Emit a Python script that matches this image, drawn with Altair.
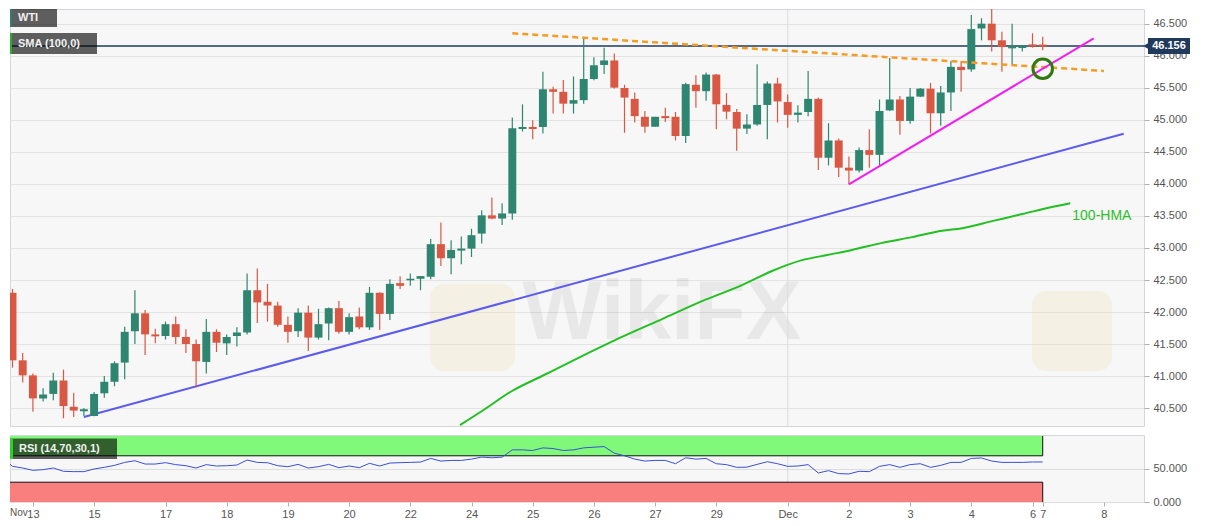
import altair as alt
import pandas as pd

# ---------------- data ----------------
opens = [41.62, 42.30, 41.245, 41.01, 40.65, 40.72, 40.93, 40.52, 40.46, 40.375,
         40.73, 40.91, 41.21, 41.70, 41.98, 41.65, 41.625, 41.81, 41.61, 41.50,
         41.22, 41.69, 41.51, 41.625, 41.68, 42.34, 42.16, 42.10, 41.80, 41.70,
         41.99, 41.60, 41.82, 42.06, 41.69, 41.93, 41.76, 42.30, 41.97, 42.44,
         42.495, 42.53, 42.55, 43.06, 42.84, 42.97, 42.99, 43.225, 43.51, 43.46,
         43.54, 44.87, 44.88, 44.89, 45.48, 45.44, 45.255, 45.31, 45.64, 45.86,
         45.93, 45.50, 45.33, 45.05, 44.895, 45.05, 45.05, 44.75, 45.55, 45.45,
         45.71, 45.235, 45.125, 44.865, 44.93, 45.235, 45.57, 45.28, 45.08, 45.125,
         45.33, 44.41, 44.68, 44.255, 44.21, 44.53, 44.455, 45.15, 45.32, 44.985,
         45.365, 45.49, 45.105, 45.43, 45.83, 45.79, 46.43, 46.505, 46.245, 46.13,
         46.135, 46.17, 46.167]
highs = [42.41, 42.36, 41.36, 41.04, 40.81, 41.05, 41.10, 40.74, 40.50, 40.75,
         41.00, 41.23, 41.77, 42.34, 42.03, 41.74, 41.85, 41.93, 41.73, 41.57,
         41.89, 41.73, 41.65, 41.76, 42.60, 42.68, 42.44, 42.16, 41.93, 42.06,
         42.10, 42.05, 42.07, 42.17, 41.98, 42.07, 42.39, 42.31, 42.51, 42.56,
         42.60, 42.56, 43.14, 43.40, 43.12, 43.18, 43.30, 43.59, 43.79, 43.70,
         45.04, 45.245, 44.995, 45.755, 45.52, 45.625, 45.68, 46.30, 45.98, 46.13,
         46.04, 45.55, 45.43, 45.14, 45.05, 45.19, 45.125, 45.58, 45.70, 45.74,
         45.72, 45.42, 45.17, 45.09, 45.87, 45.60, 45.66, 45.40, 45.23, 45.765,
         45.35, 44.95, 44.71, 44.43, 44.57, 44.855, 45.32, 45.97, 45.375, 45.50,
         45.50, 45.58, 45.53, 45.92, 45.92, 46.64, 46.59, 46.745, 46.38, 46.505,
         46.15, 46.355, 46.30]
lows = [41.31, 41.13, 40.90, 40.44, 40.60, 40.62, 40.34, 40.36, 40.375, 40.37,
        40.66, 40.84, 40.95, 41.50, 41.33, 41.51, 41.57, 41.50, 41.36, 40.82,
        41.04, 41.375, 41.33, 41.46, 41.65, 41.83, 41.85, 41.77, 41.52, 41.61,
        41.39, 41.57, 41.56, 41.66, 41.65, 41.73, 41.72, 41.72, 41.875, 42.36,
        42.41, 42.34, 42.51, 42.72, 42.59, 42.745, 42.86, 43.07, 43.45, 43.36,
        43.44, 44.82, 44.70, 44.79, 45.10, 45.10, 45.10, 45.255, 45.62, 45.72,
        45.49, 44.80, 44.96, 44.80, 44.89, 44.97, 44.68, 44.64, 45.19, 45.30,
        44.855, 45.01, 44.52, 44.78, 44.91, 44.70, 44.96, 44.88, 44.96, 45.06,
        44.22, 44.29, 44.11, 43.995, 44.18, 44.255, 44.29, 45.14, 44.77, 44.94,
        45.36, 44.79, 44.91, 45.14, 45.44, 45.755, 46.245, 46.07, 45.755, 45.87,
        46.07, 46.13, 46.09]
closes = [42.33, 41.245, 41.01, 40.65, 40.71, 40.93, 40.53, 40.46, 40.47, 40.72,
          40.91, 41.20, 41.69, 41.98, 41.65, 41.62, 41.81, 41.61, 41.50, 41.23,
          41.69, 41.52, 41.61, 41.68, 42.34, 42.15, 42.10, 41.80, 41.69, 41.99,
          41.60, 41.81, 42.06, 41.69, 41.92, 41.76, 42.30, 41.97, 42.44, 42.42,
          42.52, 42.55, 43.06, 42.84, 42.97, 42.98, 43.20, 43.51, 43.46, 43.54,
          44.87, 44.88, 44.87, 45.48, 45.44, 45.255, 45.31, 45.64, 45.855, 45.93,
          45.505, 45.35, 45.06, 44.895, 45.05, 45.04, 44.75, 45.56, 45.45, 45.71,
          45.245, 45.13, 44.865, 44.93, 45.235, 45.57, 45.29, 45.08, 45.115, 45.33,
          44.41, 44.68, 44.255, 44.21, 44.53, 44.455, 45.14, 45.32, 44.985, 45.365,
          45.49, 45.105, 45.43, 45.83, 45.78, 46.42, 46.505, 46.245, 46.14, 46.145,
          46.15, 46.156, 46.156]
rsi = [66.7, 54, 51.5, 48, 49, 51.5, 46.5, 46, 46, 50,
       52.5, 55.5, 60, 62.5, 57.5, 57.5, 59.6, 56.6, 55, 51.5,
       56.6, 54.5, 55, 56, 63.6, 60, 59.5, 55, 53.5, 57,
       51.5, 53.5, 57, 52, 54.5, 52, 58.6, 54.5, 59, 59.6,
       60, 60.5, 66, 62, 63, 63, 65, 68, 67, 68,
       79, 79, 78, 82, 81, 78, 79, 82, 83, 84,
       74, 70, 65, 62, 63, 63, 58, 67, 65, 66,
       58, 56.6, 52.5, 52.8, 57, 61, 58, 54, 54.5, 56.6,
       44, 47.5, 43, 42.5, 46.5, 46, 54, 56.6, 52.5, 56.6,
       58, 52.5, 55.5, 60, 60, 66, 66.7, 62, 60, 60,
       60, 60.6, 60.6]

hma_idx = [44.87, 47.03, 49.97, 52.91, 56.83, 60.75, 64.68, 68.6, 72.52, 75.46,
           78.4, 80.85, 83.3, 86.25, 89.19, 92.13, 94.1, 97.03, 100.0, 102.9, 104.7]
hma_val = [40.234, 40.453, 40.766, 41.0, 41.31, 41.61, 41.89, 42.17, 42.42, 42.64,
           42.81, 42.89, 42.97, 43.08, 43.17, 43.27, 43.31, 43.42, 43.53, 43.64, 43.70]

blue_i, blue_p = [8.0, 109.94], [40.36, 44.786]
pink_i, pink_p = [83.0, 107.0], [43.995, 46.276]
orange_i, orange_p = [50.0, 108.0], [46.355, 45.766]
circle_i, circle_p = [102.0], [45.80]
last_price = 46.156

tick_pos = [3, 9, 16, 22, 28, 34, 40, 46, 52, 58, 64, 70, 77, 83, 89, 95, 101, 102, 108]
tick_lab = ["13", "15", "17", "18", "19", "20", "22", "24", "25", "26", "27", "29",
            "Dec", "2", "3", "4", "6", "7", "8"]
price_ticks = [40.5, 41.0, 41.5, 42.0, 42.5, 43.0, 43.5, 44.0, 44.5, 45.0, 45.5, 46.0, 46.5]
rsi_ticks = [0, 50]

# ---------------- chart ----------------
GREEN = "#2e8670"
RED = "#d95844"
NAVY = "#1f3a5c"
XMIN, XMAX = 0.755, 111.93
W, H_MAIN, H_RSI = 1134, 417, 67

xs = alt.Scale(domain=[XMIN, XMAX], nice=False, zero=False)
ys = alt.Scale(domain=[40.219, 46.734], nice=False, zero=False)
ys_r = alt.Scale(domain=[0, 101.5], nice=False, zero=False)

yaxis = alt.Axis(orient="right", values=price_ticks, format=".3f", title=None, grid=True,
                 gridColor="#e3e3e3", tickColor="#b0b0b0", tickSize=5, labelColor="#555555",
                 labelFontSize=11, labelPadding=4, domain=False)
yaxis_r = alt.Axis(orient="right", values=rsi_ticks, format=".3f", title=None, grid=True,
                   gridColor="#dedede", tickColor="#b0b0b0", tickSize=5, labelColor="#555555",
                   labelFontSize=11, labelPadding=4, domain=False)
lab_expr = "[" + ",".join("'%s'" % t for t in tick_lab) + "][indexof([" + \
    ",".join(str(p) for p in tick_pos) + "], datum.value)]"
xaxis_r = alt.Axis(values=tick_pos, labelExpr=lab_expr, title=None, grid=False, tickSize=4,
                   tickColor="#b0b0b0", labelColor="#555555", labelFontSize=11, labelPadding=2,
                   domain=False, labelFlush=False, labelOverlap=False)


def X(f):
    return alt.X(f, scale=xs, axis=None)


def Y(f):
    return alt.Y(f, scale=ys, axis=yaxis)


def XR(f):
    return alt.X(f, scale=xs, axis=xaxis_r)


def YR(f):
    return alt.Y(f, scale=ys_r, axis=yaxis_r)


one = pd.DataFrame({"k": [0]})
candles = pd.DataFrame({"i": list(range(len(opens))), "o": opens, "h": highs,
                        "l": lows, "c": closes, "rsi": rsi})
col = alt.condition("datum.c >= datum.o", alt.value(GREEN), alt.value(RED))


def pxrect(x0, x1, y0, y1, color, opacity=1.0, corner=0):
    return alt.Chart(one).mark_rect(color=color, opacity=opacity, cornerRadius=corner).encode(
        x=alt.value(x0), x2=alt.value(x1), y=alt.value(y0), y2=alt.value(y1))


def pxtext(txt, x, y, size=11, color="#f2f2f2", weight="bold", align="left", **kw):
    return alt.Chart(one).mark_text(text=txt, fontSize=size, color=color, fontWeight=weight,
                                    align=align, baseline="middle", **kw).encode(
        x=alt.value(x), y=alt.value(y))


def line(xv, yv, **kw):
    return alt.Chart(pd.DataFrame({"x": xv, "y": yv})).mark_line(clip=True, **kw).encode(
        x=X("x:Q"), y=Y("y:Q"))


# decorations (faint watermark)
logo1 = pxrect(420, 505, 275, 362, "#ecd9a0", 0.22, 14)
logo2 = pxrect(1022, 1102, 282, 362, "#ecd9a0", 0.22, 14)
wm1 = pxtext("WikiFX", 652, 305, size=84, color="#000000", weight="bold", align="center",
             opacity=0.055, clip=True)

dec_rule = alt.Chart(pd.DataFrame({"x": [77]})).mark_rule(color="#dcdcdc").encode(x=X("x:Q"))
navy = alt.Chart(pd.DataFrame({"y": [last_price]})).mark_rule(color=NAVY, strokeWidth=1.3).encode(
    y=Y("y:Q"))
blue = line(blue_i, blue_p, color="#5b5bf0", strokeWidth=2)
hma = line(hma_idx, hma_val, color="#22c022", strokeWidth=2, interpolate="monotone")
orange = line(orange_i, orange_p, color="#f39c26", strokeWidth=2.5, strokeDash=[6, 4])
pink = line(pink_i, pink_p, color="#f01ef0", strokeWidth=2)

wicks = alt.Chart(candles).mark_rule(strokeWidth=1.2, clip=True).encode(
    x=X("i:Q"), y=Y("l:Q"), y2="h:Q", color=col)
bodies = alt.Chart(candles).transform_calculate(
    x0="datum.i - 0.39", x1="datum.i + 0.39",
    d="abs(datum.o - datum.c) < 0.02 ? 0.011 : 0",
    bt="max(datum.o, datum.c) + datum.d", bb="min(datum.o, datum.c) - datum.d"
).mark_rect(clip=True).encode(x=X("x0:Q"), x2="x1:Q", y=Y("bb:Q"), y2="bt:Q", color=col)

circle = alt.Chart(pd.DataFrame({"x": circle_i, "y": circle_p})).mark_point(
    shape="circle", size=380, filled=False, color="#2f7a0f", strokeWidth=3, opacity=1).encode(
    x=X("x:Q"), y=Y("y:Q"))
hma_text = alt.Chart(pd.DataFrame({"x": [104.9], "y": [43.5], "t": ["100-HMA"]})).mark_text(
    align="left", baseline="middle", fontSize=14, color="#2cbf2c").encode(
    x=X("x:Q"), y=Y("y:Q"), text="t:N")

wti_box = pxrect(0, 47, 0, 18, "#000000", 0.62)
wti_bar = pxrect(0, 2, 0, 18, "#2f7f6f")
wti_txt = pxtext("WTI", 8, 9)
sma_box = pxrect(0, 87, 24, 45, "#000000", 0.62)
sma_bar = pxrect(0, 2, 24, 45, "#27b027")
sma_txt = pxtext("SMA (100,0)", 8, 34.5)

pbox = pxrect(1138, 1180, 29, 45, NAVY)
ptri = alt.Chart(one).mark_point(shape="triangle-left", filled=True, size=45, color=NAVY,
                                 opacity=1).encode(x=alt.value(1136), y=alt.value(37))
ptxt = pxtext("%.3f" % last_price, 1159, 37, color="#ffffff", align="center")

main = alt.layer(logo1, logo2, wm1, dec_rule, navy, blue, hma, wicks, bodies, orange,
                 pink, circle, hma_text, wti_box, wti_bar, wti_txt, sma_box, sma_bar, sma_txt,
                 pbox, ptri, ptxt).properties(width=W, height=H_MAIN)

# ---------------- RSI panel ----------------
bands = alt.Chart(pd.DataFrame({"x0": [XMIN, XMIN], "x1": [102, 102], "y0": [70, 0],
                                "y1": [100, 30], "b": ["ob", "os"]})).mark_rect().encode(
    x=XR("x0:Q"), x2="x1:Q", y=YR("y0:Q"), y2="y1:Q",
    color=alt.Color("b:N", scale=alt.Scale(domain=["ob", "os"], range=["#80f97a", "#f97f7f"]),
                    legend=None))
band_lines = alt.Chart(pd.DataFrame({"x0": [XMIN, XMIN, 102, 102], "x1": [102, 102, 102, 102],
                                     "y0": [70, 30, 70, 0], "y1": [70, 30, 100, 30]})).mark_rule(
    color="#111111", strokeWidth=1).encode(x=XR("x0:Q"), x2="x1:Q", y=YR("y0:Q"), y2="y1:Q")
dec_rule_r = alt.Chart(pd.DataFrame({"x": [77]})).mark_rule(color="#dcdcdc").encode(x=XR("x:Q"))
rsi_line = alt.Chart(candles).mark_line(color="#3a4fd6", strokeWidth=1, clip=True).encode(
    x=XR("i:Q"), y=YR("rsi:Q"))
rsi_box = pxrect(0, 107, 3.5, 24, "#000000", 0.62)
rsi_bar = pxrect(0, 3, 3.5, 24, "#2bd02b")
rsi_txt = pxtext("RSI (14,70,30,1)", 9, 14)
nov = alt.Chart(one).mark_text(text="Nov", fontSize=10, color="#555555", align="left",
                               baseline="top").encode(x=alt.value(0), y=alt.value(H_RSI + 6))

rsi_panel = alt.layer(dec_rule_r, bands, band_lines, rsi_line, rsi_box, rsi_bar, rsi_txt,
                      nov).properties(width=W, height=H_RSI)

chart = alt.vconcat(main, rsi_panel, spacing=7).properties(padding=0).configure(
    font="Liberation Sans").configure_view(fill="#f7f7f7", stroke="#d5d5dd", strokeWidth=1)

chart.save("out.html", embed_options={"renderer": "svg", "actions": False})
